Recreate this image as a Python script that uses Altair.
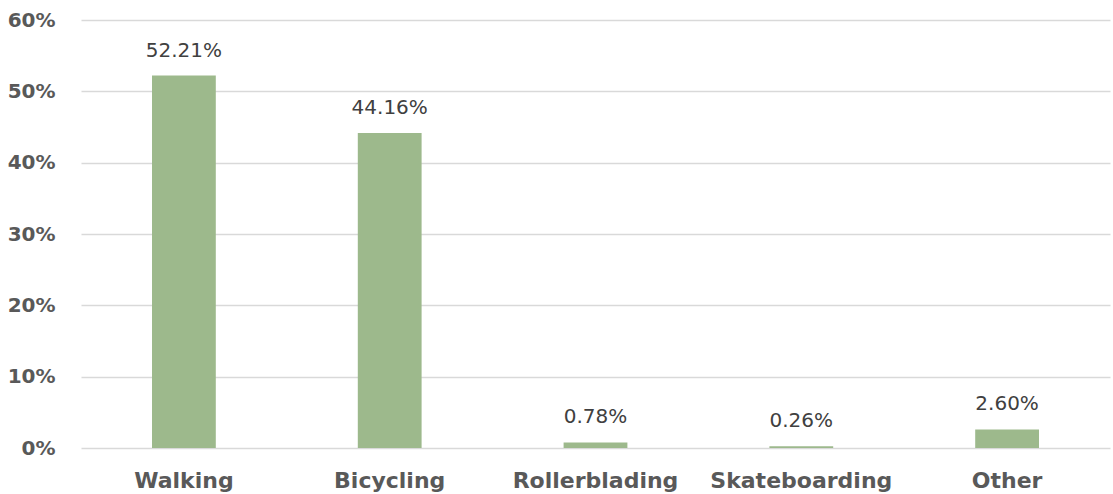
import altair as alt
import pandas as pd

# Share of trips by travel mode
modes = ["Walking", "Bicycling", "Rollerblading", "Skateboarding", "Other"]
shares = [0.5221, 0.4416, 0.0078, 0.0026, 0.0260]
share_labels = ["52.21%", "44.16%", "0.78%", "0.26%", "2.60%"]

df = pd.DataFrame({"mode": modes, "share": shares, "label": share_labels})

FONT = "DejaVu Sans"

x_enc = alt.X(
    "mode:N",
    sort=modes,
    title=None,
    scale=alt.Scale(paddingInner=0.69, paddingOuter=0.345),
    axis=alt.Axis(
        labelAngle=0,
        labelFont=FONT,
        labelFontSize=22,
        labelFontWeight="bold",
        labelColor="#595959",
        labelPadding=22,
        labelLimit=0,
        labelOverlap=False,
        ticks=False,
        domain=False,
        grid=False,
    ),
)

y_enc = alt.Y(
    "share:Q",
    title=None,
    scale=alt.Scale(domain=[0, 0.6], nice=False),
    axis=alt.Axis(
        values=[0, 0.1, 0.2, 0.3, 0.4, 0.5, 0.6],
        format=".0%",
        labelFont=FONT,
        labelFontSize=20,
        labelFontWeight="bold",
        labelColor="#595959",
        labelPadding=26,
        ticks=False,
        domain=False,
        grid=True,
        gridColor="#d9d9d9",
        gridWidth=1.5,
    ),
)

bars = alt.Chart(df).mark_bar(color="#9db98c").encode(x=x_enc, y=y_enc)

labels = alt.Chart(df).mark_text(
    font=FONT,
    fontSize=20,
    color="#404040",
    baseline="alphabetic",
    dy=-19,
).encode(x=alt.X("mode:N", sort=modes), y="share:Q", text="label:N")

chart = (
    alt.layer(bars, labels)
    .properties(
        width=1029,
        height=428,
        autosize=alt.AutoSizeParams(type="none"),
        padding={"left": 81, "top": 20, "right": 3, "bottom": 46},
        background="white",
    )
    .configure_view(stroke=None)
)

chart.save("out.html", embed_options={"renderer": "svg", "actions": False})
